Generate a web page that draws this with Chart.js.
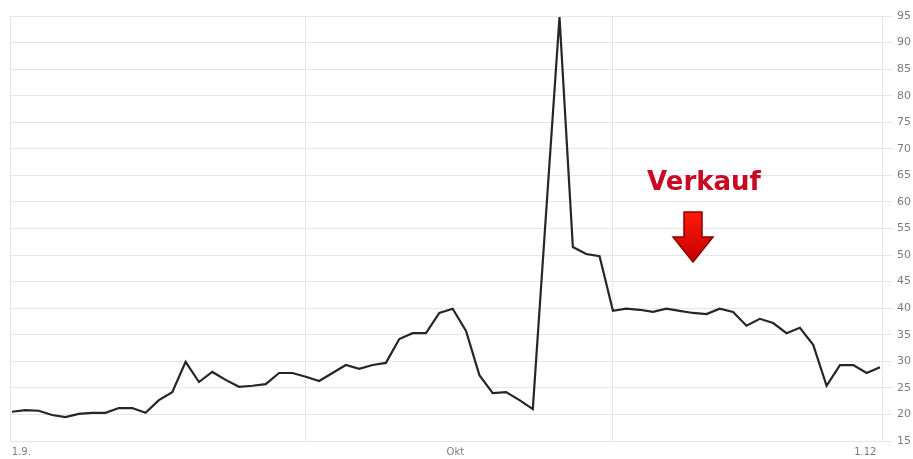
<!DOCTYPE html>
<html>
<head>
<meta charset="utf-8">
<script src="https://cdn.jsdelivr.net/npm/chart.js@4/dist/chart.umd.min.js"></script>
<style>
  html, body { margin: 0; padding: 0; background: #fff; }
  #kurs { display: block; }
</style>
</head>
<body>
<canvas id="kurs" width="913" height="459"></canvas>
<script>
// Kursverlauf, ein Wert pro Handelstag (1.9. bis 1.12.)
var kurse = [
  20.5, 20.8, 20.7, 19.9, 19.5, 20.1, 20.3, 20.3, 21.2, 21.2,
  20.3, 22.7, 24.2, 29.9, 26.1, 28.0, 26.5, 25.2, 25.4, 25.7,
  27.8, 27.8, 27.1, 26.3, 27.8, 29.3, 28.6, 29.3, 29.7, 34.2,
  35.3, 35.3, 39.1, 39.9, 35.7, 27.4, 24.0, 24.2, 22.7, 21.0,
  58.1, 94.8, 51.5, 50.2, 49.8, 39.5, 39.9, 39.7, 39.3, 39.9,
  39.5, 39.1, 38.9, 39.9, 39.3, 36.7, 38.0, 37.2, 35.3, 36.3,
  33.1, 25.4, 29.3, 29.3, 27.8, 28.9
];
var tage = kurse.map(function(v, i) { return i; });

// x-Achse: Gitterlinien und Beschriftungen (Position = Tagesindex)
var xGitter = [-0.15, 22, 45, 65.15];
var xBeschriftung = [[0.7, '1.9.'], [33.2, 'Okt'], [63.9, '1.12']];

// y-Achse
var yMin = 15, yMax = 95, yStep = 5;

var punkte = tage.map(function(t, i) { return { x: t, y: kurse[i] }; });

var xTicks = xGitter.map(function(v) { return { value: v, grid: true, label: '' }; })
  .concat(xBeschriftung.map(function(b) { return { value: b[0], grid: false, label: b[1] }; }))
  .sort(function(a, b) { return a.value - b.value; });

var verkaufPlugin = {
  id: 'verkauf',
  afterDraw: function(chart) {
    var ctx = chart.ctx;
    ctx.save();
    ctx.font = 'bold 26px "DejaVu Sans"';
    ctx.fillStyle = '#c80a24';
    ctx.textAlign = 'center';
    ctx.textBaseline = 'alphabetic';
    ctx.fillText('Verkauf', 704, 190);

    // Pfeil nach unten
    var cx = 693;
    ctx.beginPath();
    ctx.moveTo(cx - 9, 212);
    ctx.lineTo(cx + 9, 212);
    ctx.lineTo(cx + 9, 237);
    ctx.lineTo(cx + 20, 237);
    ctx.lineTo(cx, 262);
    ctx.lineTo(cx - 20, 237);
    ctx.lineTo(cx - 9, 237);
    ctx.closePath();
    var g = ctx.createLinearGradient(0, 212, 0, 262);
    g.addColorStop(0, '#ff1a0a');
    g.addColorStop(1, '#c40000');
    ctx.fillStyle = g;
    ctx.fill();
    ctx.lineWidth = 1.5;
    ctx.strokeStyle = '#8a0000';
    ctx.stroke();
    ctx.restore();
  }
};

new Chart(document.getElementById('kurs'), {
  type: 'line',
  data: {
    datasets: [{
      data: punkte,
      borderColor: '#262626',
      borderWidth: 2.2,
      pointRadius: 0,
      tension: 0,
      fill: false
    }]
  },
  options: {
    responsive: false,
    animation: false,
    layout: { padding: { left: 10, top: 16, right: 0, bottom: 0 } },
    plugins: {
      legend: { display: false },
      tooltip: { enabled: false }
    },
    scales: {
      x: {
        type: 'linear',
        min: -0.15,
        max: 65.15,
        afterBuildTicks: function(scale) {
          scale.ticks = xTicks.map(function(t) { return { value: t.value }; });
        },
        afterFit: function(scale) { scale.height = 18; },
        grid: {
          drawTicks: false,
          lineWidth: 1,
          color: function(c) {
            var t = xTicks[c.index];
            return t && t.grid ? '#e6e6e6' : 'rgba(0,0,0,0)';
          }
        },
        border: { display: false },
        ticks: {
          autoSkip: false,
          maxRotation: 0,
          padding: 5,
          color: '#7c7c7c',
          font: { family: 'DejaVu Sans', size: 10 },
          callback: function(v, i) { return xTicks[i] ? xTicks[i].label : ''; }
        }
      },
      y: {
        position: 'right',
        min: yMin,
        max: yMax,
        afterFit: function(scale) { scale.width = 31; },
        grid: { color: '#e6e6e6', tickLength: 10 },
        border: { display: true, color: '#e6e6e6' },
        ticks: {
          stepSize: yStep,
          padding: 5,
          color: '#7c7c7c',
          font: { family: 'DejaVu Sans', size: 11 }
        }
      }
    }
  },
  plugins: [verkaufPlugin]
});
</script>
</body>
</html>
